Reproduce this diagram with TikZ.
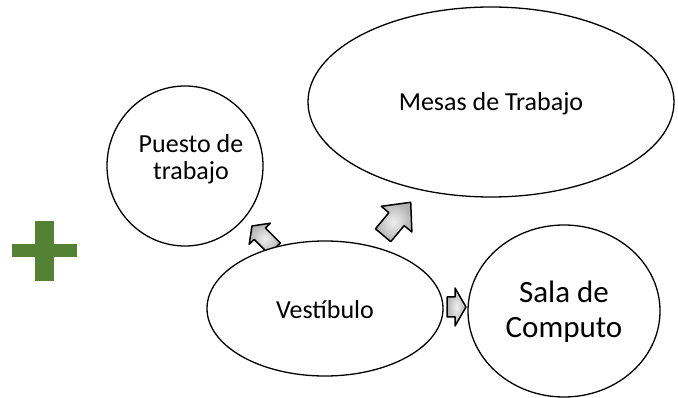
\documentclass[tikz,border=0pt]{standalone}
\usepackage{fontspec}
\setmainfont{Carlito}
\definecolor{plusgreen}{HTML}{548235}
\tikzset{
  bubble/.style={draw=black, line width=1.3pt, fill=white, ellipse, inner sep=0pt},
  lbl/.style={align=center, inner sep=0pt, font=\fontsize{26}{27}\selectfont},
  lblbig/.style={align=center, inner sep=0pt, font=\fontsize{31}{35}\selectfont},
  barrowstyle/.style={draw=black, line width=1.5pt, line join=round, shade, inner color=gray!12, outer color=gray!60},
}
\usetikzlibrary{shapes.geometric}
\newcommand\blkarrow[7]{% tip x, tip y, angle, head length, head half width, shaft half width, total length
  \begin{scope}[shift={(#1,#2)}, rotate=#3]
    \path[barrowstyle] (0,0) -- (-#4,#5) -- (-#4,#6) -- (-#7,#6) -- (-#7,-#6) -- (-#4,-#6) -- (-#4,-#5) -- cycle;
  \end{scope}}
\begin{document}
\begin{tikzpicture}[x=1pt, y=-1pt]
\useasboundingbox (0,0) rectangle (678,398);
% plus sign
\fill[plusgreen] (35,221) rectangle (54,281);
\fill[plusgreen] (12,244) rectangle (77,257);
% arrows
\blkarrow{252}{226}{135}{11}{15}{8}{32}
\blkarrow{410.7}{202.3}{50}{22}{20}{10}{43}
\blkarrow{466}{307}{0}{11}{19}{10}{19}
% ellipses
\node[bubble, minimum width=366pt, minimum height=190pt] (mesas) at (491,102) {};
\node[bubble, minimum width=156pt, minimum height=160pt] (puesto) at (185,166) {};
\node[bubble, minimum width=236pt, minimum height=135pt] (vest) at (325,308.5) {};
\node[bubble, minimum width=192pt, minimum height=172pt] (sala) at (564,311) {};
% labels
\node[lbl] (tmesas) at (491,104) {Mesas de Trabajo};
\node[lbl] (tpuesto) at (191,159) {Puesto de\\trabajo};
\node[lbl] (tvest) at (325,310) {Vestíbulo};
\node[lblbig] (tsala) at (564,312) {Sala de\\Computo};
\end{tikzpicture}
\end{document}
